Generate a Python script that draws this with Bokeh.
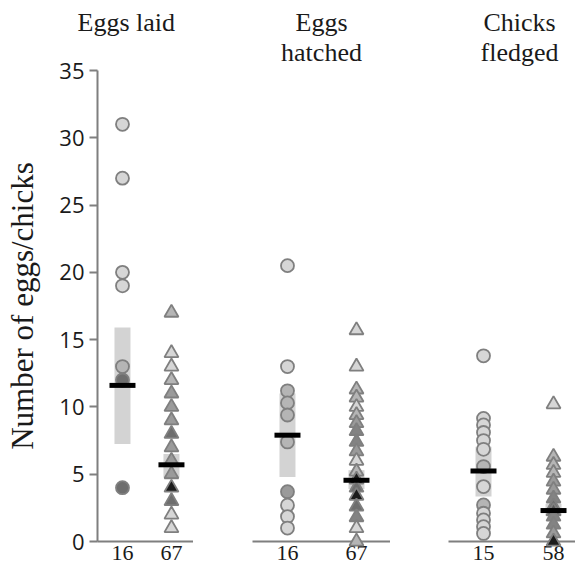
from bokeh.plotting import figure
from bokeh.layouts import row
from bokeh.models import Range1d, FixedTicker, ColumnDataSource, LinearColorMapper, Title
from bokeh.transform import transform
from bokeh.embed import file_html
from bokeh.resources import INLINE

# ---------------- data ----------------
panel_titles = [["Eggs laid"], ["Eggs", "hatched"], ["Chicks", "fledged"]]
sample_sizes = [[16, 67], [16, 67], [15, 58]]
y_ticks = [0, 5, 10, 15, 20, 25, 30, 35]

# value / number of nests sharing that value (circles = group 1, triangles = group 2)
laid_c_vals = [31, 27, 20, 19, 13, 12, 4]
laid_c_cnts = [1, 1, 1, 1, 2, 5, 5]
laid_t_vals = [17, 14, 13, 12, 11, 10, 9, 8, 7, 6, 5, 4, 3, 2, 1]
laid_t_cnts = [2, 1, 1, 2, 3, 3, 3, 5, 3, 3, 3, 31, 5, 1, 1]

hatch_c_vals = [20.5, 13, 11.2, 10.3, 9.4, 7.4, 3.7, 2.7, 1.85, 1.0]
hatch_c_cnts = [1, 1, 2, 2, 2, 2, 3, 1, 1, 1]
hatch_t_vals = [15.7, 13.0, 11.3, 10.7, 10.0, 9.4, 8.8, 8.2, 7.4, 6.7, 6.0, 5.2, 4.6, 4.0, 3.4, 2.6, 1.8, 1.0, 0.0]
hatch_t_cnts = [1, 1, 2, 2, 1, 2, 3, 4, 4, 3, 1, 2, 13, 5, 11, 5, 4, 1, 2]

fledge_c_vals = [13.8, 9.15, 8.66, 8.1, 7.5, 6.85, 5.57, 4.08, 2.72, 2.1, 1.6, 1.1, 0.6]
fledge_c_cnts = [1, 1, 1, 1, 1, 1, 2, 1, 2, 1, 1, 1, 1]
fledge_t_vals = [10.2, 6.3, 5.7, 5.1, 4.45, 3.85, 3.2, 2.6, 2.25, 1.85, 1.25, 0.6, 0.0]
fledge_t_cnts = [1, 2, 2, 2, 3, 3, 4, 5, 6, 4, 4, 3, 19]

# group means and shaded intervals [circles, triangles]
laid_mean = [11.6, 5.7]
laid_lo = [7.25, 4.8]
laid_hi = [15.9, 6.5]
hatch_mean = [7.9, 4.55]
hatch_lo = [4.8, 3.9]
hatch_hi = [11.0, 5.3]
fledge_mean = [5.24, 2.3]
fledge_lo = [3.34, 1.9]
fledge_hi = [7.05, 2.8]

panels = [
    (laid_c_vals, laid_c_cnts, laid_t_vals, laid_t_cnts, laid_mean, laid_lo, laid_hi),
    (hatch_c_vals, hatch_c_cnts, hatch_t_vals, hatch_t_cnts, hatch_mean, hatch_lo, hatch_hi),
    (fledge_c_vals, fledge_c_cnts, fledge_t_vals, fledge_t_cnts, fledge_mean, fledge_lo, fledge_hi),
]

# ---------------- layout / style ----------------
frame_widths = [96, 138, 127]
left_borders = [97, 59, 58]
x_ranges = [(0.49, 2.45), (0.493, 2.493), (0.5, 2.314)]
# (align, offset) for each title line
title_pos = [[("left", -20)], [("center", 0), ("center", 0)], [("left", 35), ("left", 32)]]
FRAME_H = 471
TOP = 64
BOTTOM = 31

AX_COLOR = "#7f7f7f"
TXT = "#1a1a1a"
SERIF = "Liberation Serif"

shade_mapper = LinearColorMapper(
    palette=["#d6d6d6", "#b5b5b5", "#9a9a9a", "#838383", "#6e6e6e", "#595959", "#444444", "#2e2e2e"],
    low=0.5, high=8.5, high_color="#1c1c1c")


def title(text, standoff, align="center", offset=0):
    return Title(text=text, align=align, offset=offset, standoff=standoff,
                 text_font=SERIF, text_font_size="26px", text_font_style="normal",
                 text_color=TXT)


figs = []
for i, (cv, cc, tv, tc, mean, lo, hi) in enumerate(panels):
    p = figure(frame_width=frame_widths[i], frame_height=FRAME_H,
               x_range=Range1d(*x_ranges[i]), y_range=Range1d(0, 35),
               output_backend="svg", toolbar_location=None,
               min_border_left=left_borders[i], min_border_right=0,
               min_border_top=TOP, min_border_bottom=BOTTOM)
    p.outline_line_color = None
    p.grid.visible = False
    p.background_fill_color = "white"
    p.border_fill_color = "white"

    lines = panel_titles[i]
    pos = title_pos[i]
    if len(lines) == 1:
        # one-line title kept on the upper line, like the first line of the others
        p.add_layout(title(lines[0] + "\n", 10, *pos[0]), "above")
    else:
        p.add_layout(title(lines[1], 8, *pos[1]), "above")
        p.add_layout(title(lines[0], -10, *pos[0]), "above")

    # x axis: sample sizes
    p.xaxis.ticker = FixedTicker(ticks=[1, 2])
    p.xaxis.major_label_overrides = {1: str(sample_sizes[i][0]), 2: str(sample_sizes[i][1])}
    p.xaxis.major_tick_out = 0
    p.xaxis.major_tick_in = 0
    p.xaxis.minor_tick_line_color = None
    p.xaxis.axis_line_color = AX_COLOR
    p.xaxis.axis_line_width = 2
    p.xaxis.major_label_text_font = SERIF
    p.xaxis.major_label_text_font_size = "22px"
    p.xaxis.major_label_text_color = TXT
    p.xaxis.major_label_standoff = 4

    if i == 0:
        p.yaxis.ticker = FixedTicker(ticks=y_ticks)
        p.yaxis.major_tick_out = 8
        p.yaxis.major_tick_in = 0
        p.yaxis.minor_tick_line_color = None
        p.yaxis.axis_line_color = AX_COLOR
        p.yaxis.axis_line_width = 2
        p.yaxis.major_tick_line_color = AX_COLOR
        p.yaxis.major_tick_line_width = 2
        p.yaxis.major_label_text_font = "Open Sans"
        p.yaxis.major_label_text_font_size = "22px"
        p.yaxis.major_label_text_color = TXT
        p.yaxis.major_label_standoff = 5
        p.yaxis.axis_label = "Number of eggs/chicks"
        p.yaxis.axis_label_text_font = SERIF
        p.yaxis.axis_label_text_font_size = "31px"
        p.yaxis.axis_label_text_font_style = "normal"
        p.yaxis.axis_label_text_color = TXT
        p.yaxis.axis_label_standoff = 16
    else:
        p.yaxis.visible = False

    # shaded intervals
    box = ColumnDataSource(dict(x=[1, 2], mid=[(a + b) / 2 for a, b in zip(lo, hi)],
                                h=[b - a for a, b in zip(lo, hi)], mean=mean))
    p.rect(x="x", y="mid", width=16, width_units="screen", height="h",
           fill_color="#d3d3d3", line_color=None, source=box)

    # points
    for g, (vals, cnts, mk, sz) in enumerate([(cv, cc, "circle", 13), (tv, tc, "triangle", 14)]):
        src = ColumnDataSource(dict(x=[g + 1] * len(vals), v=vals, n=cnts))
        p.scatter(x="x", y="v", marker=mk, size=sz, source=src,
                  fill_color=transform("n", shade_mapper),
                  line_color=AX_COLOR, line_width=1.8, level="overlay")

    # mean bars
    p.rect(x="x", y="mean", width=26, height=5, width_units="screen", height_units="screen",
           fill_color="black", line_color=None, source=box, level="overlay")
    figs.append(p)

layout = row(*figs)
open("out.html", "w").write(file_html(layout, INLINE))
